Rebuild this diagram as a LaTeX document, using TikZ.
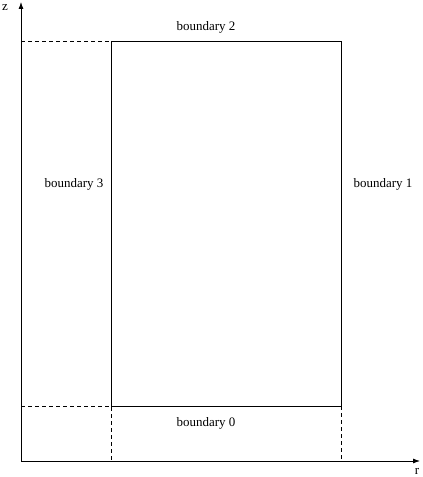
\documentclass[tikz,border=0pt]{standalone}
\usepackage{fontspec}
\setmainfont{Liberation Serif}
\usetikzlibrary{arrows.meta}

\begin{document}
\begin{tikzpicture}[x=1bp, y=-1bp,
    every node/.style={font=\fontsize{13}{15}\selectfont, inner sep=0pt, outer sep=0pt},
    axis/.style={line width=.8pt, -{Latex[length=7bp, width=5bp]}},
    edge/.style={line width=.8pt},
    guide/.style={line width=.8pt, dash pattern=on 4bp off 3bp}]
    \useasboundingbox (0,0) rectangle (422,477);
    \coordinate (O) at (21,461);
    \draw[axis] (O) -- (21,2);
    \draw[axis] (O) -- (420,461);
    \draw[edge] (111,41) rectangle (341,406);
    \draw[guide] (21,41) -- (111,41);
    \draw[guide] (21,406) -- (111,406) -- (111,461);
    \draw[guide] (341,406) -- (341,461);
    \node (z) at (5,8) {z};
    \node (r) at (417,471) {r};
    \node (b0) at (206,423) {boundary 0};
    \node (b1) at (383,184) {boundary 1};
    \node (b2) at (206,27) {boundary 2};
    \node (b3) at (74,184) {boundary 3};
\end{tikzpicture}
\end{document}
